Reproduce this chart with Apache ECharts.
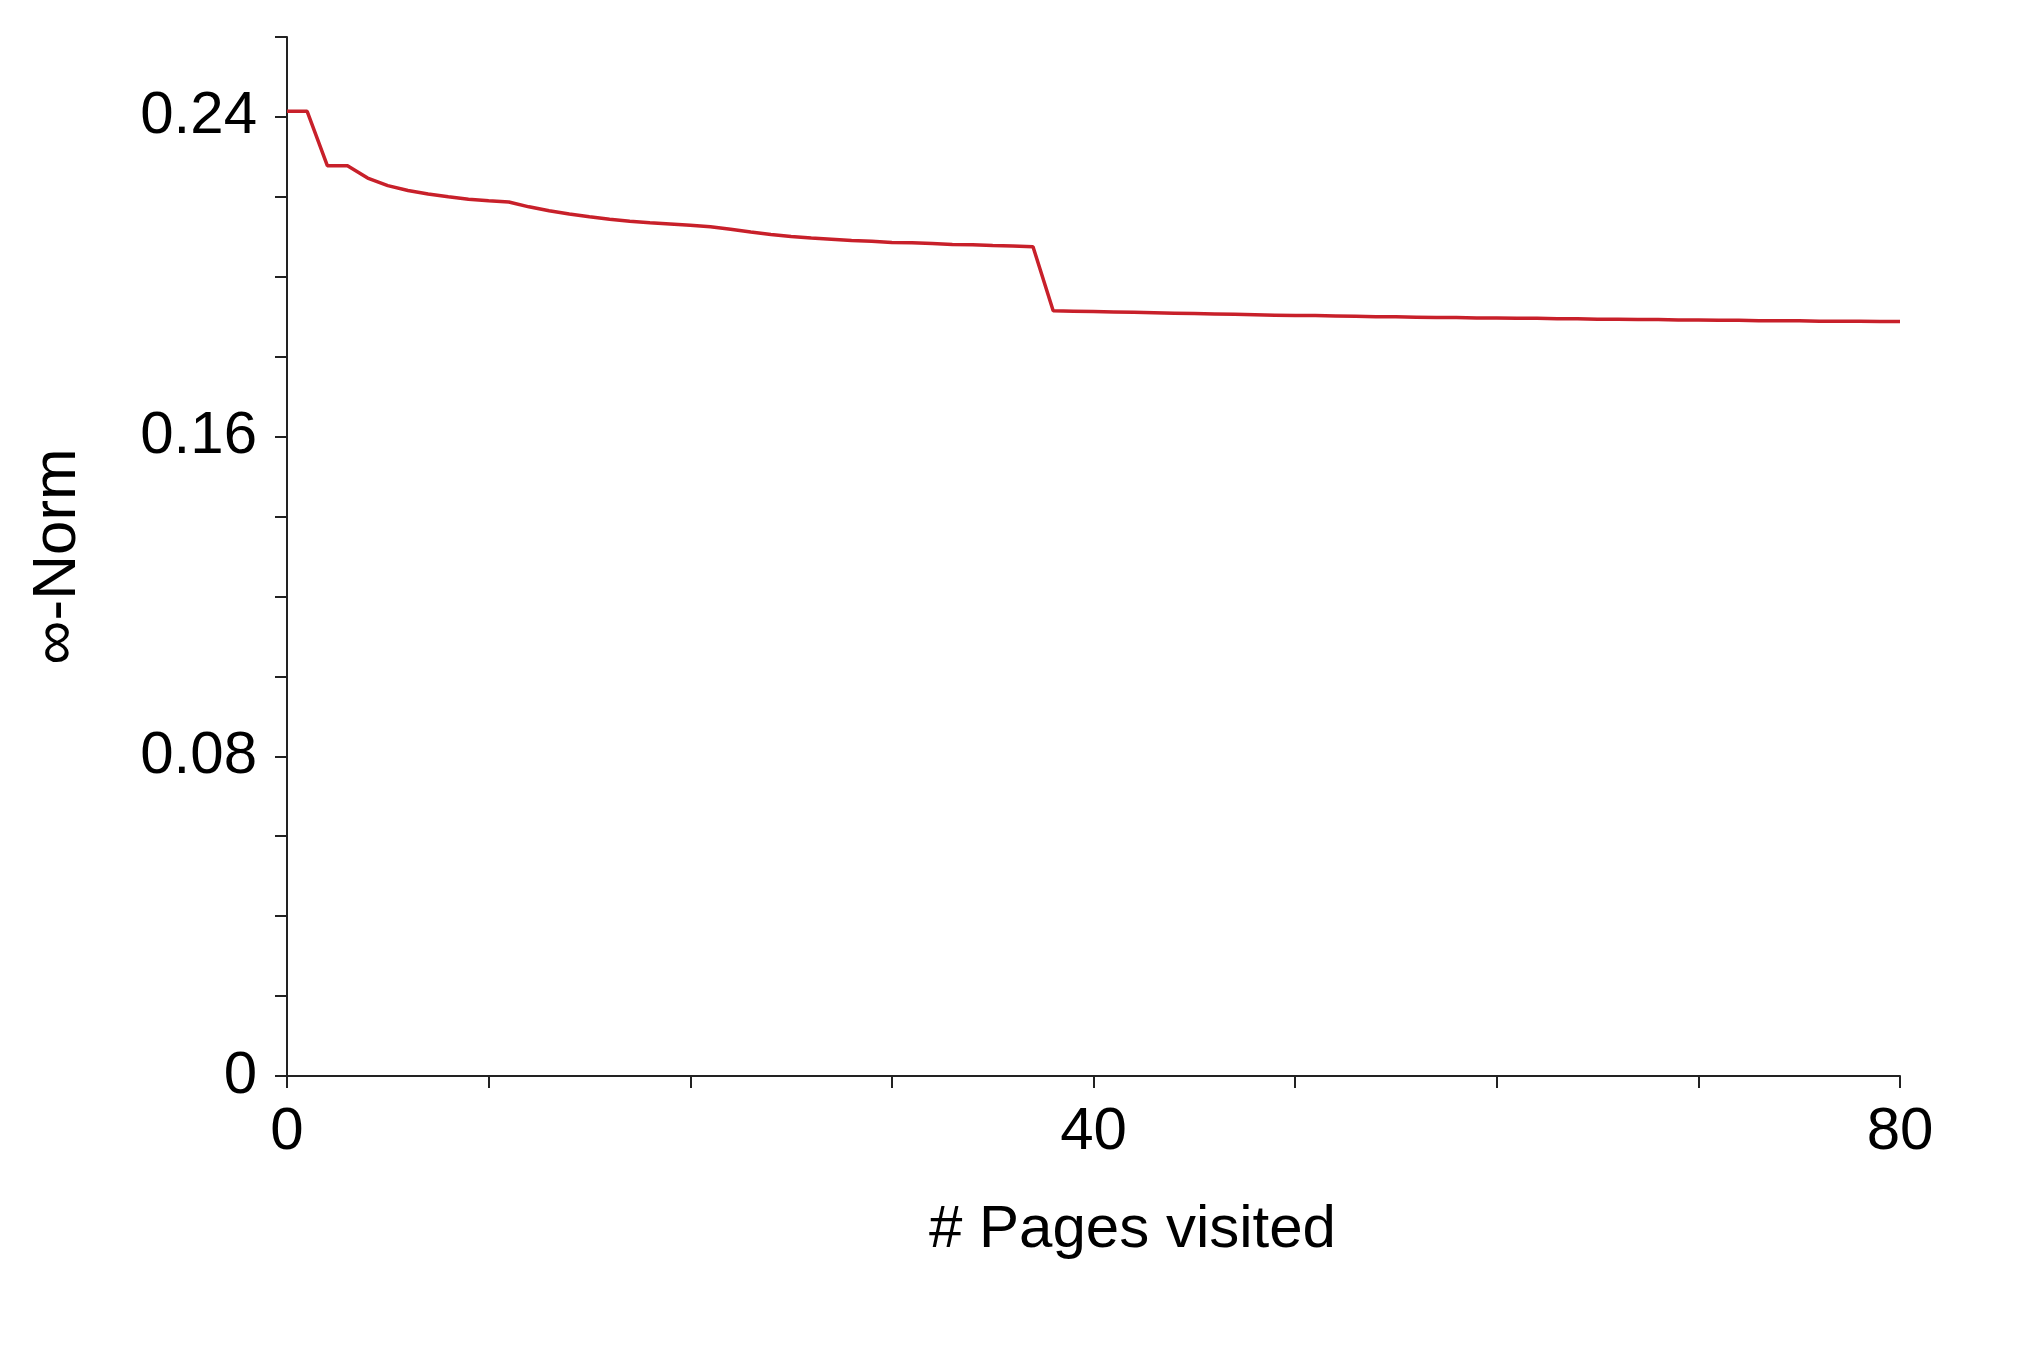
<!DOCTYPE html>
<html>
<head>
<meta charset="utf-8">
<script src="https://cdn.jsdelivr.net/npm/echarts@6/dist/echarts.min.js"></script>
<style>
html,body{margin:0;padding:0;background:#fff;}
#chart{width:2027px;height:1350px;}
</style>
</head>
<body>
<div id="chart"></div>
<script>
// Data
const pagesVisited = [0,1,2,3,4,5,6,7,8,9,10,11,12,13,14,15,16,17,18,19,20,21,22,23,24,25,26,27,28,29,30,31,32,33,34,35,36,37,
  38,39,40,41,42,43,44,45,46,47,48,49,50,51,52,53,54,55,56,57,58,59,60,61,62,63,64,65,66,67,68,69,70,71,72,73,74,75,76,77,78,79,80];
const infNorm = [0.2414,0.2414,0.2278,0.2278,0.2247,0.2228,0.2216,0.2207,0.2200,0.2194,0.2190,0.2187,0.2175,0.2165,0.2157,0.2150,0.2144,0.2139,0.2135,0.2132,0.2129,0.2125,0.2119,0.2112,0.2106,0.2101,0.2097,0.2094,0.2091,0.2089,0.2086,0.2085,0.2083,0.2081,0.2080,0.2078,0.2077,0.2075,
  0.1915,0.1914,0.1913,0.1912,0.1911,0.1910,0.1909,0.1908,0.1907,0.1906,0.1905,0.1904,0.1903,0.1903,0.1902,0.1901,0.1900,0.1900,0.1899,0.1898,0.1898,0.1897,0.1897,0.1896,0.1896,0.1895,0.1895,0.1894,0.1894,0.1893,0.1893,0.1892,0.1892,0.1891,0.1891,0.1890,0.1890,0.1890,0.1889,0.1889,0.1889,0.1888,0.1888];
const xLabeled = [0, 40, 80];
const yLabeled = [0, 0.08, 0.16, 0.24];
const xName = '# Pages visited';
const yName = '\u221E-Norm';

const chart = echarts.init(document.getElementById('chart'), null, {renderer:'canvas'});
const font = '"Liberation Sans", Arial, Helvetica, sans-serif';
const axisCol = '#222';
const isIn = (arr, v) => arr.some(a => Math.abs(a - v) < 1e-6);

chart.setOption({
  animation: false,
  backgroundColor: '#fff',
  grid: {left: 287, right: 127, top: 37, bottom: 274, containLabel: false},
  xAxis: {
    type: 'value', min: 0, max: 80, interval: 10,
    name: xName, nameLocation: 'middle', nameGap: 124,
    nameTextStyle: {fontFamily: font, fontSize: 60, color: '#000', padding: [0,0,0,78]},
    axisLine: {show: true, onZero: false, lineStyle: {color: axisCol, width: 2}},
    axisTick: {show: true, length: 12, lineStyle: {color: axisCol, width: 2}},
    splitLine: {show: false},
    axisLabel: {
      margin: 26, fontFamily: font, fontSize: 60, color: '#000',
      formatter: v => isIn(xLabeled, v) ? String(v) : ''
    }
  },
  yAxis: {
    type: 'value', min: 0, max: 0.26, interval: 0.02,
    name: yName, nameLocation: 'middle', nameGap: 198, nameRotate: 90,
    nameTextStyle: {fontFamily: font, fontSize: 62, color: '#000'},
    axisLine: {show: true, lineStyle: {color: axisCol, width: 2}},
    axisTick: {show: true, length: 12, lineStyle: {color: axisCol, width: 2}},
    splitLine: {show: false},
    axisLabel: {
      margin: 30, fontFamily: font, fontSize: 60, color: '#000',
      formatter: v => isIn(yLabeled, v) ? (Math.abs(v) < 1e-9 ? '0' : v.toFixed(2)) : ''
    }
  },
  series: [{
    type: 'line',
    data: pagesVisited.map((x, i) => [x, infNorm[i]]),
    showSymbol: false,
    symbol: 'none',
    lineStyle: {color: '#C8202A', width: 3.5},
    itemStyle: {color: '#C8202A'}
  }]
});
</script>
</body>
</html>
